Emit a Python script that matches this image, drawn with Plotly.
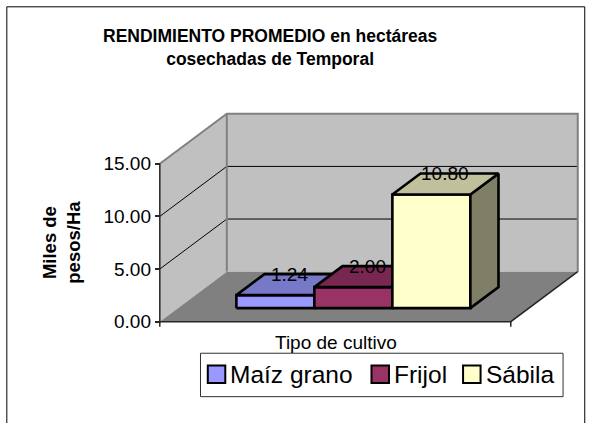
import plotly.graph_objects as go

# ---- data -------------------------------------------------------------
categories = ["Maíz grano", "Frijol", "Sábila"]
values = [1.24, 2.00, 10.80]
y_ticks = [0, 5, 10, 15]
y_max = 15

# ---- styling ----------------------------------------------------------
front_colors = ["#9999FF", "#993366", "#FFFFCC"]
top_colors = ["#7878C8", "#782850", "#C0C09C"]
side_colors = ["#4D4D80", "#4D1A33", "#7F7F66"]
WALL = "#C0C0C0"
FLOOR = "#808080"
EDGE = "#808080"
AXIS = "#262626"
FONT = "Liberation Sans"

# ---- oblique 3-D geometry (x in bar widths, v in value units) ----------
GAP = 0.75                          # half of a 150% gap width
FLOOR_W = len(values) + 2 * GAP     # width of the floor
DX, DY = 0.859, 4.75                # full-depth offset
D0, D1 = 0.27, 0.69                 # depth span of the columns


def proj(x, d, v):
    return x + d * DX, v + d * DY


def poly(points):
    xs, ys = [], []
    for p in points:
        X, Y = proj(*p)
        xs.append(X)
        ys.append(Y)
    xs.append(xs[0])
    ys.append(ys[0])
    return xs, ys


# ---- page layout ------------------------------------------------------
W, H = 592, 423
X0_PX, SX = 160.0, 78.0     # pixel of x=0 and pixels per x unit
Y0_PX, SY = 321.7, 10.52    # pixel of v=0 and pixels per value unit
x_range = [-0.1, FLOOR_W + DX + 0.08]
y_range = [-0.7, y_max + DY + 0.55]
m_l = X0_PX + x_range[0] * SX
m_r = W - (X0_PX + x_range[1] * SX)
m_t = Y0_PX - y_range[1] * SY
m_b = H - (Y0_PX - y_range[0] * SY)
plot_w = W - m_l - m_r
plot_h = H - m_t - m_b


def px_x(px):
    return (px - m_l) / plot_w


def px_y(py):
    return (H - m_b - py) / plot_h


fig = go.Figure()


def add_poly(points, fill, line_color=None, line_width=0):
    xs, ys = poly(points)
    fig.add_trace(go.Scatter(
        x=xs, y=ys, mode="lines", fill="toself", fillcolor=fill,
        line=dict(color=line_color or fill, width=line_width),
        hoverinfo="skip", showlegend=False))


def add_line(points, color, width):
    xs, ys = [], []
    for p in points:
        X, Y = proj(*p)
        xs.append(X)
        ys.append(Y)
    fig.add_trace(go.Scatter(
        x=xs, y=ys, mode="lines", line=dict(color=color, width=width),
        hoverinfo="skip", showlegend=False))


# walls and floor
add_poly([(0, 1, 0), (FLOOR_W, 1, 0), (FLOOR_W, 1, y_max), (0, 1, y_max)], WALL)
add_poly([(0, 0, 0), (0, 1, 0), (0, 1, y_max), (0, 0, y_max)], WALL)
add_poly([(0, 0, 0), (FLOOR_W, 0, 0), (FLOOR_W, 1, 0), (0, 1, 0)], FLOOR)

# gridlines on the back and side walls
for t in y_ticks[1:-1]:
    add_line([(0, 0, t), (0, 1, t), (FLOOR_W, 1, t)], "#000000", 1)

# wall edges
add_line([(0, 0, y_max), (0, 1, y_max), (FLOOR_W, 1, y_max),
          (FLOOR_W, 1, 0)], EDGE, 2)
add_line([(0, 1, 0), (0, 1, y_max)], EDGE, 2)

# floor edges, value axis line and category axis end ticks
add_line([(0, 0, 0), (FLOOR_W, 0, 0), (FLOOR_W, 1, 0)], AXIS, 1.5)
add_line([(0, 0, 0), (0, 0, y_max)], AXIS, 1.5)
for xe in (0, FLOOR_W):
    add_line([(xe, 0, 0), (xe, 0, -5 / SY)], AXIS, 1.5)

# columns
for i, (name, v) in enumerate(zip(categories, values)):
    x0, x1 = GAP + i, GAP + i + 1
    add_poly([(x0, D0, 0), (x1, D0, 0), (x1, D0, v), (x0, D0, v)],
             front_colors[i], "#000000", 2.6)
    add_poly([(x1, D0, 0), (x1, D1, 0), (x1, D1, v), (x1, D0, v)],
             side_colors[i], "#000000", 2.6)
    add_poly([(x0, D0, v), (x1, D0, v), (x1, D1, v), (x0, D1, v)],
             top_colors[i], "#000000", 2.6)
    lx, ly = proj((x0 + x1) / 2, (D0 + D1) / 2, v)
    fig.add_annotation(x=lx, y=ly, xref="x", yref="y", text=f"{v:.2f}",
                       showarrow=False, yshift=10.5,
                       xanchor="center", yanchor="middle",
                       font=dict(family=FONT, size=19, color="#000000"))

# legend box with one swatch and label per series
LEG_BOX = (200.7, 353.3, 563.3, 396.7)      # left, top, right, bottom (px)
LEG_ITEM_X = [208.0, 371.7, 463.3]          # swatch left edge (px)
LEG_SWATCH = 17.5
LEG_MID = (LEG_BOX[1] + LEG_BOX[3]) / 2 - 0.8
fig.add_shape(type="rect", xref="paper", yref="paper",
              x0=px_x(LEG_BOX[0]), x1=px_x(LEG_BOX[2]),
              y0=px_y(LEG_BOX[3]), y1=px_y(LEG_BOX[1]),
              line=dict(color="#303030", width=1), fillcolor="#FFFFFF")
for i, name in enumerate(categories):
    sx = LEG_ITEM_X[i]
    fig.add_shape(type="rect", xref="paper", yref="paper",
                  x0=px_x(sx), x1=px_x(sx + LEG_SWATCH),
                  y0=px_y(LEG_MID + LEG_SWATCH / 2),
                  y1=px_y(LEG_MID - LEG_SWATCH / 2),
                  line=dict(color="#000000", width=2),
                  fillcolor=front_colors[i])
    fig.add_annotation(x=px_x(sx + LEG_SWATCH + 3), y=px_y(LEG_MID),
                       xref="paper", yref="paper", text=name,
                       xanchor="left", yanchor="middle", showarrow=False,
                       font=dict(family=FONT, size=24.5, color="#000000"))

# titles
fig.add_annotation(
    x=px_x(270), y=px_y(47.5), xref="paper", yref="paper",
    xanchor="center", yanchor="middle",
    text="<b>RENDIMIENTO PROMEDIO en hectáreas<br>cosechadas de Temporal</b>",
    showarrow=False, font=dict(family=FONT, size=17.5, color="#000000"))
fig.add_annotation(
    x=px_x(62), y=px_y(242), xref="paper", yref="paper",
    xanchor="center", yanchor="middle",
    text="<b>Miles de<br>pesos/Ha</b>", textangle=-90,
    showarrow=False, font=dict(family=FONT, size=18.5, color="#000000"))
fig.add_annotation(
    x=px_x(336.7), y=px_y(343), xref="paper", yref="paper",
    xanchor="center", yanchor="middle",
    text="Tipo de cultivo", showarrow=False,
    font=dict(family=FONT, size=19, color="#000000"))

# chart frame
fig.add_shape(type="rect", xref="paper", yref="paper",
              x0=px_x(7), x1=px_x(585), y0=px_y(445), y1=px_y(7),
              line=dict(color="#000000", width=1), fillcolor="rgba(0,0,0,0)")

fig.update_layout(
    width=W, height=H,
    margin=dict(l=m_l, r=m_r, t=m_t, b=m_b, pad=0),
    paper_bgcolor="#FFFFFF", plot_bgcolor="rgba(0,0,0,0)",
    font=dict(family=FONT, color="#000000"),
    xaxis=dict(range=x_range, visible=False, fixedrange=True),
    yaxis=dict(range=y_range, anchor="free",
               position=(X0_PX - m_l) / plot_w,
               tickvals=y_ticks, tickformat=".2f", ticks="outside",
               ticklen=5, tickwidth=1.5, tickcolor=AXIS,
               tickfont=dict(family=FONT, size=19, color="#000000"),
               showgrid=False, zeroline=False, showline=False,
               fixedrange=True),
    showlegend=False,
)

fig.write_html("out.html")
